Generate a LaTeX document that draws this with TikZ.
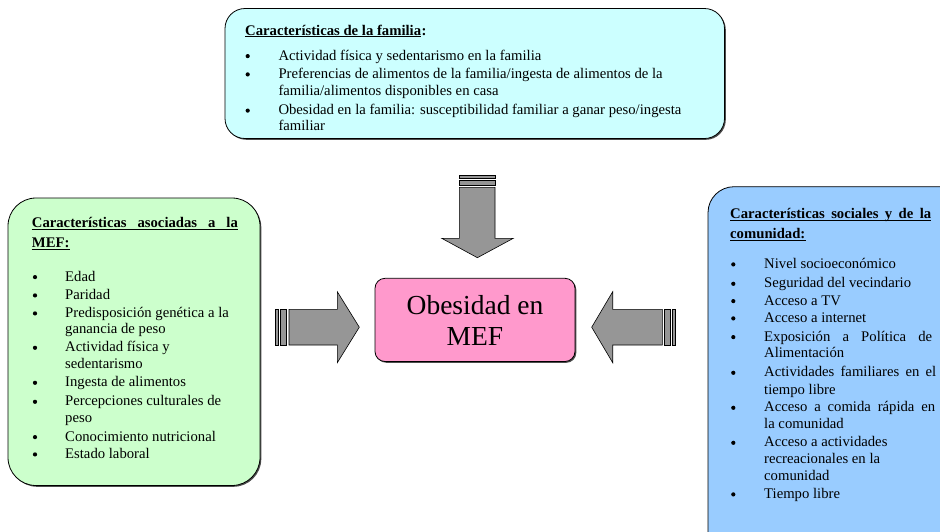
\documentclass[tikz,border=0pt]{standalone}
\usepackage{fontspec}
\setmainfont{Liberation Serif}
\usetikzlibrary{shadows}
\definecolor{famcol}{RGB}{204,255,255}
\definecolor{mefcol}{RGB}{204,255,204}
\definecolor{comcol}{RGB}{153,204,255}
\definecolor{obecol}{RGB}{255,153,204}
\definecolor{arrcol}{RGB}{150,150,150}
\newcommand{\fsbody}{\fontsize{14.7}{17}\selectfont}
\newcommand{\fsbig}{\fontsize{27.5}{32}\selectfont}
\newcommand{\jl}[2]{\makebox[#1pt][s]{#2}}
\begin{document}
\begin{tikzpicture}[x=1pt,y=-1pt,
  boxst/.style={draw=black, line width=0.8pt,
     drop shadow={shadow xshift=1.3pt, shadow yshift=-1.3pt, fill=black!70, opacity=1}},
  arrowst/.style={draw=black, line width=0.6pt, fill=arrcol},
  txt/.style={anchor=base west, inner sep=0pt, font=\fsbody},
  ttl/.style={anchor=base west, inner sep=0pt, font=\fsbody\bfseries},
  bul/.style={circle, fill=black, inner sep=0pt, minimum size=4.2pt, yshift=3.9pt},
  big/.style={anchor=base, inner sep=0pt, font=\fsbig},
  uln/.style={line width=0.8pt}]
\useasboundingbox (0,0) rectangle (940,531);
\fill[white] (0,0) rectangle (940,531);

% boxes
\path[boxst, fill=famcol, rounded corners=20pt] (225,8.5) rectangle (724.5,138.5);
\path[boxst, fill=mefcol, rounded corners=28pt] (8,198) rectangle (260,485.5);
\path[boxst, fill=comcol, rounded corners=26pt] (708,186.7) rectangle (970,570);
\path[boxst, fill=obecol, rounded corners=10pt] (375,278.3) rectangle (575,361.5);

% top arrow
\draw[arrowst] (459.3,175) rectangle (495,178);
\draw[arrowst] (459.3,180) rectangle (495,185.7);
\draw[arrowst] (459.3,187.3) -- (495,187.3) -- (495,238.3) -- (513.3,238.3) -- (477.4,257.7) -- (441.7,238.3) -- (459.3,238.3) -- cycle;
% left arrow
\draw[arrowst] (275.7,309.3) rectangle (278.3,345);
\draw[arrowst] (280,309.3) rectangle (286.7,345);
\draw[arrowst] (289,309.3) -- (337.3,309.3) -- (337.3,291.7) -- (359.3,327.2) -- (337.3,362.7) -- (337.3,345) -- (289,345) -- cycle;
% right arrow
\draw[arrowst] (672.3,309.3) rectangle (675,345);
\draw[arrowst] (664.3,309.3) rectangle (670.7,345);
\draw[arrowst] (662.3,309.3) -- (612.7,309.3) -- (612.7,291.7) -- (591.7,327.2) -- (612.7,362.7) -- (612.7,345) -- (662.3,345) -- cycle;

% centre
\node[big] (c1) at (475,314.3) {Obesidad en};
\node[big] (c2) at (475,345.8) {MEF};

% top box text
\node[ttl] (ft) at (245,35) {Características de la familia};
\node[ttl, anchor=base west] (ftc) at (ft.base east) {:};
\draw[uln] ([yshift=-1.6pt]ft.base west) -- ([yshift=-1.6pt]ft.base east);
\node[bul] (fb1) at (247.7,60) {};
\node[txt] (f1) at (278.3,60) {Actividad física y sedentarismo en la familia};
\node[bul] (fb2) at (247.7,78.3) {};
\node[txt] (f2) at (278.3,78.3) {Preferencias de alimentos de la familia/ingesta de alimentos de la};
\node[txt] (f3) at (278.3,95) {familia/alimentos disponibles en casa};
\node[bul] (fb3) at (247.7,114.5) {};
\node[txt] (f4) at (278.3,114.5) {Obesidad en la familia: susceptibilidad familiar a ganar peso/ingesta};
\node[txt] (f5) at (278.3,130) {familiar};

% left box text
\node[ttl] (mt1) at (31.7,227.3) {\jl{206}{Características asociadas a la}};
\draw[uln] ([yshift=-1.6pt]mt1.base west) -- ([yshift=-1.6pt]mt1.base east);
\node[ttl] (mt2) at (31.7,247.3) {MEF:};
\draw[uln] ([yshift=-1.6pt]mt2.base west) -- ([yshift=-1.6pt]mt2.base east);
\node[bul] (mb1) at (35,281) {};
\node[txt] (m1) at (65,281) {Edad};
\node[bul] (mb2) at (35,299.3) {};
\node[txt] (m2) at (65,299.3) {Paridad};
\node[bul] (mb3) at (35,317.3) {};
\node[txt] (m3) at (65,317.3) {Predisposición genética a la};
\node[txt] (m4) at (65,333.5) {ganancia de peso};
\node[bul] (mb4) at (35,351.7) {};
\node[txt] (m5) at (65,351.7) {Actividad física y};
\node[txt] (m6) at (65,368.3) {sedentarismo};
\node[bul] (mb5) at (35,386.7) {};
\node[txt] (m7) at (65,386.7) {Ingesta de alimentos};
\node[bul] (mb6) at (35,405.7) {};
\node[txt] (m8) at (65,405.7) {Percepciones culturales de};
\node[txt] (m9) at (65,422.3) {peso};
\node[bul] (mb7) at (35,441) {};
\node[txt] (m10) at (65,441) {Conocimiento nutricional};
\node[bul] (mb8) at (35,458.3) {};
\node[txt] (m11) at (65,458.3) {Estado laboral};

% right box text
\node[ttl] (ct1) at (730,218.3) {\jl{201}{Características sociales y de la}};
\draw[uln] ([yshift=-1.6pt]ct1.base west) -- ([yshift=-1.6pt]ct1.base east);
\node[ttl] (ct2) at (730,238.3) {comunidad:};
\draw[uln] ([yshift=-1.6pt]ct2.base west) -- ([yshift=-1.6pt]ct2.base east);
\node[bul] (cb1) at (733.3,268.3) {};
\node[txt] (k1) at (764,268.3) {Nivel socioeconómico};
\node[bul] (cb2) at (733.3,287.7) {};
\node[txt] (k2) at (764,287.7) {Seguridad del vecindario};
\node[bul] (cb3) at (733.3,305) {};
\node[txt] (k3) at (764,305) {Acceso a TV};
\node[bul] (cb4) at (733.3,322.3) {};
\node[txt] (k4) at (764,322.3) {Acceso a internet};
\node[bul] (cb5) at (733.3,341) {};
\node[txt] (k5) at (764,341) {\jl{168}{Exposición a Política de}};
\node[txt] (k6) at (764,357.7) {Alimentación};
\node[bul] (cb6) at (733.3,376.7) {};
\node[txt] (k7) at (764,376.7) {\jl{172}{Actividades familiares en el}};
\node[txt] (k8) at (764,394) {tiempo libre};
\node[bul] (cb7) at (733.3,411.7) {};
\node[txt] (k9) at (764,411.7) {\jl{171}{Acceso a comida rápida en}};
\node[txt] (k10) at (764,428.3) {la comunidad};
\node[bul] (cb8) at (733.3,446.7) {};
\node[txt] (k11) at (764,446.7) {Acceso a actividades};
\node[txt] (k12) at (764,463.3) {recreacionales en la};
\node[txt] (k13) at (764,480) {comunidad};
\node[bul] (cb9) at (733.3,498.3) {};
\node[txt] (k14) at (764,498.3) {Tiempo libre};
\end{tikzpicture}
\end{document}
